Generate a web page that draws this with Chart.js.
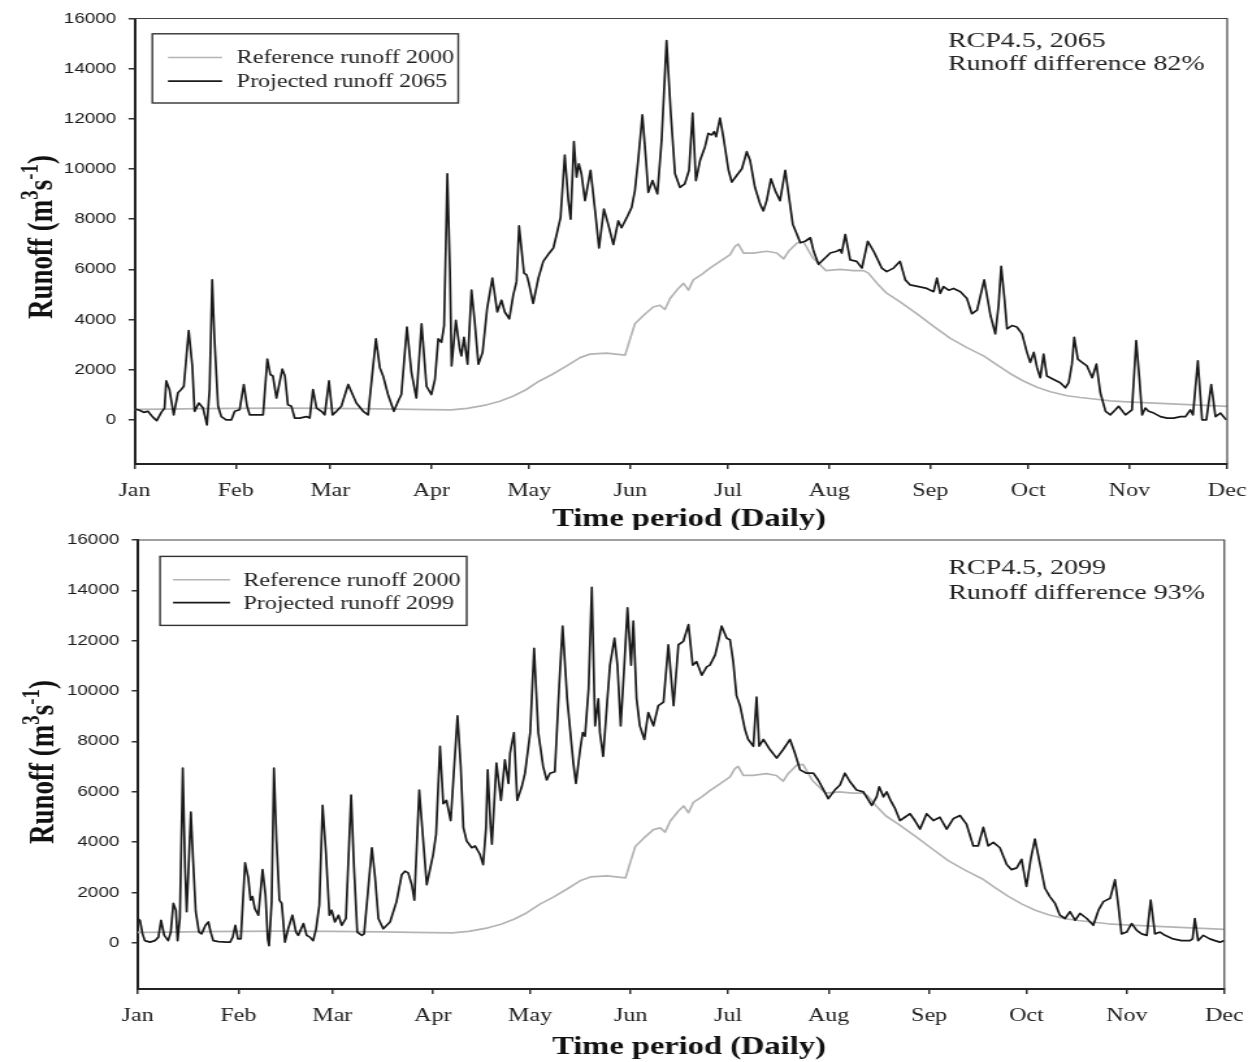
<!DOCTYPE html>
<html>
<head>
<meta charset="utf-8">
<script src="https://cdn.jsdelivr.net/npm/chart.js@4.4.0/dist/chart.umd.min.js"></script>
<style>
  html, body { margin: 0; padding: 0; background: #fff; }
  body { width: 1252px; height: 1062px; overflow: hidden; position: relative; }
  canvas { position: absolute; left: 0; transform-origin: 0 0; transform: scaleX(1.3); }
</style>
</head>
<body>
<canvas id="c1" width="964" height="530" style="top:0px"></canvas>
<canvas id="c2" width="964" height="532" style="top:530px"></canvas>
<script>
// ---------------- DATA ----------------
const monthLabels = ['Jan','Feb','Mar','Apr','May','Jun','Jul','Aug','Sep','Oct','Nov','Dec'];
const monthStartDays = [0,31,60,91,121,152,182,213,244,274,305,335];
const yTickValues = [0,2000,4000,6000,8000,10000,12000,14000,16000];

// [day of year, runoff m3/s]
const reference2000 = [
[0,420],[10,430],[20,450],[31,460],[45,470],[60,460],[75,440],[90,410],[97,400],[102,460],[108,600],[112,740],
[116,940],[120,1200],[124,1540],[128,1810],[132.5,2150],[136.6,2480],[139.6,2620],[144.7,2660],[150.4,2580],
[151.9,3220],[153.4,3830],[156,4160],[159,4500],[161.1,4570],[162.6,4400],[164.2,4840],[166.7,5240],[168.3,5440],
[169.8,5170],[171.3,5580],[173.9,5800],[176.4,6050],[179.5,6320],[182.6,6590],[184.1,6920],[185.1,7010],
[186.7,6650],[189.7,6650],[193.8,6720],[196.9,6650],[199,6420],[200.5,6720],[203.1,7050],[205.1,7090],[208,6450],
[212,5950],[216.3,6000],[220.4,5950],[223.5,5950],[225,5850],[227.6,5450],[230.6,5050],[234.7,4700],[239.8,4230],
[245,3730],[250,3260],[255.2,2880],[260.3,2550],[264.3,2200],[268.4,1850],[272.5,1550],[276.7,1300],[280.8,1120],
[285.9,960],[290,890],[294.1,830],[299.2,760],[304.3,720],[309.4,690],[314.5,660],[319.6,630],[324.7,600],
[329.9,570],[335,540]
];

const projected2065 = [
[0,440],[1.5,380],[2.8,300],[4.1,340],[5.6,110],[6.8,-30],[8.2,300],[9.2,470],[9.7,1550],[10.7,1210],[12,200],
[13.3,1080],[14.3,1210],[15.1,1340],[16.6,3560],[17.7,2150],[18.4,340],[19.7,670],[21,470],[22.2,-200],[23,1210],
[23.8,5580],[24.5,3230],[25.6,540],[26.6,130],[28.1,0],[29.7,0],[30.7,340],[32.2,400],[33.5,1410],[34.5,540],
[35.3,200],[36.8,200],[39.4,200],[40.7,2420],[41.6,1810],[42.4,1750],[43.5,870],[45.3,2020],[46.1,1750],[47,600],
[48.1,540],[49.1,70],[50.6,70],[52.7,130],[53.7,70],[54.7,1210],[55.8,470],[57.3,340],[58.3,200],[59.6,1550],
[60.7,200],[61.9,340],[63.4,540],[65.5,1410],[68,670],[70.1,340],[71.6,200],[74,3230],[75.2,2080],[76.2,1750],
[77.7,1010],[79.5,340],[80.8,740],[81.8,1010],[83.5,3700],[84.9,1880],[86.4,870],[88,3830],[89.5,1340],[91,1010],
[92.1,1610],[93.1,3230],[94.1,3090],[94.9,3760],[95.9,9810],[96.7,5910],[97.2,2150],[98.5,3970],[99.7,2820],
[100.2,2550],[101,3290],[102.1,2220],[103.3,5170],[104.3,3900],[105.4,2220],[106.7,2690],[108.1,4440],[109.7,5650],
[111.2,4300],[112.5,4770],[113.5,4300],[114.9,4030],[116.1,4970],[117.1,5510],[117.9,7730],[119.4,5850],[120.2,5780],
[120.9,5440],[122.2,4640],[123.8,5650],[125.3,6320],[126.8,6590],[128.4,6850],[129.4,7390],[130.6,8060],[131.9,10550],
[133,8740],[133.7,8000],[134.7,11090],[135.5,9680],[136.2,10210],[137,9810],[138.1,8740],[139.8,9950],[141.2,8330],
[142.4,6850],[143.9,8400],[145.2,7800],[146.8,6990],[148.3,7930],[149.3,7660],[150.9,8060],[152.4,8470],[153.4,9140],
[154.4,10350],[155.7,12160],[156.8,10350],[157.5,9070],[158.8,9540],[160.3,9010],[161.6,11160],[163.1,15120],
[164.4,12230],[165.7,9810],[167.2,9270],[168.7,9410],[170,9950],[171.1,12230],[172.1,9540],[173.4,10350],[174.9,10890],
[175.9,11420],[177,11360],[177.7,11490],[178.3,11290],[179.5,12030],[180.5,11290],[182.1,9950],[183.1,9480],
[184.6,9740],[186.2,10010],[187.7,10690],[188.7,10350],[190.2,9270],[191.8,8600],[192.8,8330],[193.8,8740],
[195.1,9610],[196.4,9140],[197.9,8740],[199.5,9950],[200.5,9010],[201.8,7800],[203.1,7390],[204.1,7060],[205.6,7120],
[207.2,7260],[208.2,6720],[209.7,6200],[213.3,6650],[215.3,6720],[216.3,6790],[216.8,6650],[217.9,7390],[219.4,6380],
[221.4,6320],[223,6050],[224.8,7120],[226.6,6720],[229.1,6050],[230.6,5910],[232.7,6050],[234.7,6320],[236.3,5580],
[237.8,5380],[240.4,5310],[242.9,5240],[245,5110],[246,5650],[247,5040],[248,5310],[249.6,5170],[251.1,5240],
[253.2,5110],[255.2,4840],[256.7,4230],[258.3,4370],[260.5,5580],[262.4,4170],[263.9,3430],[264.9,4570],[265.7,6120],
[266.7,4840],[267.5,3630],[269,3760],[270.5,3700],[272.1,3430],[273.6,2690],[274.6,2290],[275.7,2690],[276.7,2080],
[277.7,1680],[278.7,2620],[279.7,1750],[281.8,1610],[283.8,1480],[285.4,1280],[286.4,1480],[287.4,2220],[288.1,3290],
[289.2,2420],[290.5,2290],[292,2150],[293.6,1680],[294.9,2220],[296.1,1080],[297.7,340],[299.2,200],[300.7,400],
[301.7,540],[303.8,200],[305.8,400],[307.1,3160],[308.1,1610],[308.9,200],[309.9,470],[310.9,340],[312.5,270],
[314.5,130],[316.6,70],[318.6,70],[320.7,130],[322.2,130],[323.7,400],[324.5,200],[326,2350],[327.3,0],[328.6,0],
[330.1,1410],[331.4,130],[332.9,270],[334.7,0]
];

const projected2099 = [
[0,970],[0.7,900],[1.5,360],[2.2,90],[3.8,30],[5.3,90],[6.4,230],[7.2,900],[8.2,300],[9.4,90],[10.2,430],[11,1570],
[11.8,1300],[12.3,90],[13,970],[13.9,6940],[14.6,2980],[15.1,1240],[15.6,2710],[16.4,5190],[17.1,3250],[17.9,1240],
[18.9,430],[19.7,360],[20.9,700],[21.8,830],[22.5,430],[23.3,90],[24.9,50],[27.4,30],[28.5,30],[29.3,230],[30.1,700],
[30.9,160],[31.8,160],[33.1,3180],[34.1,2580],[34.8,1700],[35.4,1840],[36.1,1370],[37.2,1100],[38.5,2910],[39.4,1910],
[40.1,160],[40.5,-110],[41.3,1640],[42,6940],[42.8,4050],[43.7,1700],[44.4,1570],[45.4,30],[46.4,560],[47.7,1100],
[48.8,430],[49.5,300],[51.1,770],[52.1,300],[53.1,230],[54.1,90],[55,560],[56,1500],[57,5460],[58,3650],[59.1,1100],
[59.8,1300],[60.8,830],[61.9,1100],[62.9,700],[64.2,970],[65.8,5870],[66.7,2980],[67.7,430],[69.1,300],[69.8,360],
[70.9,1910],[72.2,3780],[73.2,2580],[74.2,970],[75.7,560],[77.8,830],[79.8,1640],[81.4,2710],[82.4,2850],[83.4,2780],
[84.5,2310],[85.3,1700],[86.8,6070],[89.1,2310],[91.1,3520],[92,4320],[93.2,7810],[94.2,5530],[95.2,5660],[96.5,4860],
[98.6,9020],[99.6,7000],[100.4,4590],[101.4,4050],[103,3780],[104,3850],[105.5,3520],[106.5,3110],[107.4,4590],
[107.9,6870],[108.8,4590],[109.2,3920],[110.6,7140],[112,5660],[113.2,7270],[114.3,6330],[114.8,7540],[116,8350],
[117,5660],[118.4,6200],[119.4,6740],[121,8350],[122.2,11700],[123.5,8350],[125,7000],[126.1,6470],[127.1,6740],
[128.6,6800],[130,10360],[131,12580],[132.4,9690],[134.3,7140],[135.1,6330],[136.4,7680],[137.2,8350],[137.9,8210],
[139,10090],[140,14120],[141,8620],[142,9690],[142.5,8350],[143.5,7410],[144.8,9690],[145.6,11030],[147,12100],
[147.9,11030],[148.9,8620],[149.9,10760],[151,13310],[152.1,11030],[152.8,12780],[153.8,9690],[154.8,8620],
[156.2,8080],[157.4,9150],[159,8620],[160.5,9420],[162.1,9560],[163.6,11840],[165.2,9420],[166.7,11840],[168.2,11970],
[169.8,12640],[171.1,11030],[172.3,11170],[173.9,10630],[175.4,10960],[176.4,11030],[178,11430],[179,11970],
[180,12580],[181.6,12100],[182.6,12040],[183.6,11170],[184.6,9820],[185.7,9420],[187.2,8480],[188.2,8080],
[189.8,7810],[190.8,9760],[191.6,7810],[192.9,8080],[194.9,7680],[197,7340],[199,7680],[201.1,8080],[202.6,7540],
[204.2,6870],[206.2,6740],[208.3,6740],[209.8,6470],[212.9,5730],[214.9,6070],[216.5,6270],[218,6740],[219.6,6400],
[221.6,6070],[223.7,6000],[226.3,5460],[227.8,5800],[228.6,6200],[229.9,5800],[230.9,6000],[232.1,5660],[233.5,5330],
[235,4860],[236.5,4990],[238.1,5130],[239.6,4860],[241.2,4520],[243.2,5130],[245.3,4860],[247.3,4990],[249.4,4520],
[251.4,4930],[253.5,5060],[255.5,4720],[257.6,3850],[259.1,3850],[260.7,4590],[262.2,3850],[263.8,3990],[265.8,3780],
[267.9,3110],[269.4,2910],[271,2980],[272.5,3320],[274,2240],[275.3,3320],[276.6,4120],[278.2,3110],[279.7,2170],
[281.2,1840],[282.8,1570],[284.3,1100],[285.9,970],[287.4,1240],[289,900],[290.5,1170],[292.6,970],[294.6,700],
[296.2,1300],[297.7,1640],[299.8,1770],[301.3,2510],[302.3,1500],[303.3,360],[304.9,430],[306.4,770],[308,500],
[309.5,360],[311.1,300],[312.3,1700],[313.6,360],[315.2,430],[316.7,300],[319.2,160],[321.8,90],[324.4,90],
[325.2,160],[325.9,970],[326.9,90],[328.5,300],[330.5,160],[332.1,90],[333.6,30],[335,90]
];

// ---------------- DRAWING ----------------
const SERIF = "'Liberation Serif', 'Times New Roman', serif";
const SANS = "'Liberation Sans', Arial, sans-serif";
const W = 964;
const Y_MAX = 16000;
const REF_COLOR = '#b4b4b4';
const PROJ_COLOR = '#1a1a1a';

const decorPlugin = {
  id: 'decor',
  afterDraw(chart, args, o) {
    const ctx = chart.ctx;
    const a = chart.chartArea;
    ctx.save();
    // top and right frame
    ctx.strokeStyle = '#444';
    ctx.lineWidth = 1.2;
    ctx.beginPath();
    ctx.moveTo(a.left, a.top);
    ctx.lineTo(a.right, a.top);
    ctx.lineTo(a.right, a.bottom);
    ctx.stroke();

    // legend box
    const L = o.legend;
    ctx.fillStyle = '#fff';
    ctx.fillRect(L.x1, L.y1, L.x2 - L.x1, L.y2 - L.y1);
    ctx.strokeStyle = '#333';
    ctx.lineWidth = 1.4;
    ctx.strokeRect(L.x1, L.y1, L.x2 - L.x1, L.y2 - L.y1);
    const items = [
      { label: chart.data.datasets[1].label, color: REF_COLOR, y: L.row1, w: 1.4 },
      { label: chart.data.datasets[0].label, color: PROJ_COLOR, y: L.row2, w: 1.7 }
    ];
    ctx.font = '18.5px ' + SERIF;
    ctx.textBaseline = 'middle';
    ctx.textAlign = 'left';
    items.forEach(it => {
      ctx.strokeStyle = it.color;
      ctx.lineWidth = it.w;
      ctx.beginPath();
      ctx.moveTo(L.lx1, it.y);
      ctx.lineTo(L.lx2, it.y);
      ctx.stroke();
      ctx.fillStyle = '#222';
      ctx.fillText(it.label, L.tx, it.y + 1);
    });

    // annotation
    const N = o.note;
    ctx.font = '21.5px ' + SERIF;
    ctx.textBaseline = 'alphabetic';
    ctx.fillStyle = '#222';
    ctx.fillText(N.lines[0], N.x, N.y1);
    ctx.fillText(N.lines[1], N.x, N.y2);

    // x title
    ctx.font = 'bold 25px ' + SERIF;
    ctx.textAlign = 'center';
    ctx.fillStyle = '#111';
    ctx.fillText('Time period (Daily)', o.xtitle.x, o.xtitle.y);

    // y title with superscripts
    const fs = 27, sfs = 19;
    const parts = [
      { t: 'Runoff (m', sup: false },
      { t: '3', sup: true },
      { t: 's', sup: false },
      { t: '-1', sup: true },
      { t: ')', sup: false }
    ];
    let total = 0;
    parts.forEach(p => {
      ctx.font = 'bold ' + (p.sup ? sfs : fs) + 'px ' + SERIF;
      p.w = ctx.measureText(p.t).width;
      total += p.w;
    });
    ctx.translate(o.ytitle.x, o.ytitle.y);
    ctx.rotate(-Math.PI / 2);
    ctx.textAlign = 'left';
    let cx = -total / 2;
    parts.forEach(p => {
      ctx.font = 'bold ' + (p.sup ? sfs : fs) + 'px ' + SERIF;
      ctx.fillText(p.t, cx, p.sup ? -11 : 0);
      cx += p.w;
    });
    ctx.restore();
  }
};

function makePanel(canvasId, H, area, yMin, projData, projLabel, decor) {
  const pts = arr => arr.map(p => ({ x: p[0], y: p[1] }));
  return new Chart(document.getElementById(canvasId), {
    type: 'line',
    data: {
      datasets: [
        { label: projLabel, data: pts(projData), borderColor: PROJ_COLOR, borderWidth: 1.7,
          pointRadius: 0, tension: 0, borderJoinStyle: 'round', fill: false },
        { label: 'Reference runoff 2000', data: pts(reference2000), borderColor: REF_COLOR, borderWidth: 1.7,
          pointRadius: 0, tension: 0, borderJoinStyle: 'round', fill: false }
      ]
    },
    options: {
      responsive: false,
      animation: false,
      devicePixelRatio: 1,
      layout: { padding: { left: 0, top: area.top, right: W - area.right, bottom: 0 } },
      plugins: { legend: { display: false }, tooltip: { enabled: false }, decor: decor },
      scales: {
        x: {
          type: 'linear', min: 0, max: 335,
          afterFit: s => { s.height = H - area.bottom; s.paddingLeft = 0; s.paddingRight = 0; },
          afterBuildTicks: s => { s.ticks = monthStartDays.map(v => ({ value: v })); },
          ticks: {
            autoSkip: false, maxRotation: 0, padding: 11.5, color: '#222',
            font: { family: SERIF, size: 18.5 },
            callback: v => monthLabels[monthStartDays.indexOf(v)]
          },
          grid: { drawOnChartArea: false, drawTicks: true, tickLength: 5, color: '#333', lineWidth: 1.5 },
          border: { display: true, color: '#222', width: 2 }
        },
        y: {
          min: yMin, max: Y_MAX,
          afterFit: s => { s.width = area.left; s.paddingTop = 0; s.paddingBottom = 0; },
          afterBuildTicks: s => { s.ticks = yTickValues.map(v => ({ value: v })); },
          ticks: {
            padding: 9.5, color: '#1a1a1a',
            font: { family: SANS, size: 14.5 },
            callback: v => String(v)
          },
          grid: { drawOnChartArea: false, drawTicks: true, tickLength: 4.6, color: '#333', lineWidth: 1.5 },
          border: { display: true, color: '#222', width: 2 }
        }
      }
    },
    plugins: [decorPlugin]
  });
}

makePanel('c1', 530, { left: 103.5, right: 944, top: 18.5, bottom: 464 }, -1760, projected2065, 'Projected runoff 2065', {
  legend: { x1: 117.2, y1: 33.8, x2: 352.5, y2: 103, lx1: 129.2, lx2: 170.8, tx: 182.1, row1: 57.5, row2: 81.2 },
  note: { x: 729.2, y1: 46.5, y2: 70.3, lines: ['RCP4.5, 2065', 'Runoff difference 82%'] },
  xtitle: { x: 530, y: 526 },
  ytitle: { x: 40, y: 237 }
});

makePanel('c2', 532, { left: 105.9, right: 941.8, top: 10, bottom: 459 }, -1830, projected2099, 'Projected runoff 2099', {
  legend: { x1: 123.1, y1: 26.4, x2: 359, y2: 95.4, lx1: 133.1, lx2: 176.9, tx: 187.2, row1: 49.7, row2: 72.7 },
  note: { x: 729.5, y1: 44, y2: 69.3, lines: ['RCP4.5, 2099', 'Runoff difference 93%'] },
  xtitle: { x: 530, y: 523.5 },
  ytitle: { x: 40.8, y: 232 }
});
</script>
</body>
</html>
